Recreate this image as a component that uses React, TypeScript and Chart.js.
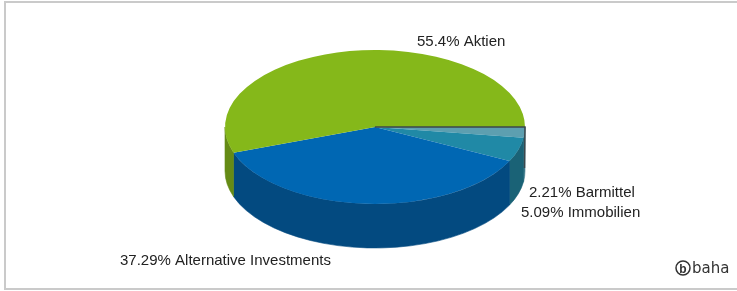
import React, { useEffect, useRef } from "react";
import { Chart, registerables } from "chart.js";

Chart.register(...registerables);

// ---- data (drawn clockwise from 3 o'clock) ----
const categories = ["Barmittel", "Immobilien", "Alternative Investments", "Aktien"];
const values = [2.21, 5.09, 37.29, 55.4];
const percentLabels = ["2.21%", "5.09%", "37.29%", "55.4%"];

// ---- styles ----
const topColors = ["#5d9fb0", "#2089a6", "#0067b3", "#85b81a"];
const sideColors = ["#3f7a8a", "#1a6276", "#034a80", "#658b15"];
// label anchors (left x, baseline y) in canvas pixels
const labelX = [529, 521, 120, 417];
const labelY = [197, 217, 265, 46];

const TILT = 77 / 150;
const DEPTH = 44;
const FONT = "Liberation Sans, Arial, sans-serif";

const pie3d = {
  id: "pie3d",
  beforeDatasetsDraw(chart: any) {
    const arcs = chart.getDatasetMeta(0).data as any[];
    if (!arcs.length) return;
    const { x: cx, y: cy, outerRadius: r } = arcs[0];
    const ry = r * TILT;
    const ctx = chart.ctx as CanvasRenderingContext2D;
    arcs.forEach((arc: any, i: number) => {
      const s = arc.startAngle;
      const e = arc.endAngle;
      for (const off of [-2 * Math.PI, 0, 2 * Math.PI]) {
        const a = Math.max(s + off, 0);
        const b = Math.min(e + off, Math.PI);
        if (b > a) {
          ctx.beginPath();
          ctx.ellipse(cx, cy, r, ry, 0, a, b);
          ctx.ellipse(cx, cy + DEPTH, r, ry, 0, b, a, true);
          ctx.closePath();
          ctx.fillStyle = sideColors[i];
          ctx.strokeStyle = sideColors[i];
          ctx.lineWidth = 0.6;
          ctx.fill();
          ctx.stroke();
        }
      }
    });
    ctx.save();
    ctx.translate(cx, cy);
    ctx.scale(1, TILT);
    ctx.translate(-cx, -cy);
  },
  afterDatasetsDraw(chart: any) {
    const ctx = chart.ctx as CanvasRenderingContext2D;
    ctx.restore();
    const arcs = chart.getDatasetMeta(0).data as any[];
    if (!arcs.length) return;
    const { x: cx, y: cy, outerRadius: r } = arcs[0];
    // edge line at the start of the first slice
    const a0 = arcs[0].startAngle;
    const ex = cx + r * Math.cos(a0);
    const ey = cy + r * TILT * Math.sin(a0);
    ctx.save();
    ctx.strokeStyle = "#3b474c";
    ctx.lineWidth = 1.5;
    ctx.beginPath();
    ctx.moveTo(cx, cy);
    ctx.lineTo(ex, ey);
    ctx.lineTo(ex - 0.5, ey + DEPTH - 3);
    ctx.stroke();
    ctx.restore();
  },
  afterDraw(chart: any) {
    const ctx = chart.ctx as CanvasRenderingContext2D;
    ctx.save();
    ctx.fillStyle = "#222";
    ctx.font = `15px ${FONT}`;
    ctx.textAlign = "left";
    ctx.textBaseline = "alphabetic";
    categories.forEach((c, i) => {
      ctx.fillText(`${percentLabels[i]} ${c}`, labelX[i], labelY[i]);
    });
    // logo
    ctx.strokeStyle = "#333";
    ctx.lineWidth = 1.5;
    ctx.beginPath();
    ctx.arc(683, 268, 7, 0, Math.PI * 2);
    ctx.stroke();
    ctx.fillStyle = "#333";
    ctx.font = `bold 12px ${FONT}`;
    ctx.textAlign = "center";
    ctx.fillText("b", 683, 272.5);
    ctx.font = `15px DejaVu Sans, sans-serif`;
    ctx.textAlign = "left";
    ctx.fillText("baha", 692, 273);
    ctx.restore();
  },
};

export default function App() {
  const ref = useRef<HTMLCanvasElement | null>(null);
  useEffect(() => {
    if (!ref.current) return;
    const chart = new Chart(ref.current, {
      type: "pie",
      data: {
        labels: categories,
        datasets: [
          {
            data: values,
            backgroundColor: topColors,
            borderWidth: 0,
          },
        ],
      },
      options: {
        animation: false,
        responsive: false,
        devicePixelRatio: 1,
        rotation: 90,
        radius: 150,
        layout: { padding: { left: 13, right: 0, top: 0, bottom: 37 } },
        plugins: {
          legend: { display: false },
          tooltip: { enabled: false },
        },
        events: [],
      } as any,
      plugins: [pie3d],
    });
    return () => chart.destroy();
  }, []);
  return (
    <div
      style={{
        position: "absolute",
        left: 0,
        top: 0,
        width: 737,
        height: 291,
        overflow: "hidden",
        background: "#fff",
      }}
    >
      <canvas ref={ref} width={737} height={291} style={{ display: "block" }} />
      <div
        style={{
          position: "absolute",
          left: 4,
          top: 1,
          width: 760,
          height: 285,
          border: "2px solid #cacaca",
          pointerEvents: "none",
        }}
      />
    </div>
  );
}
